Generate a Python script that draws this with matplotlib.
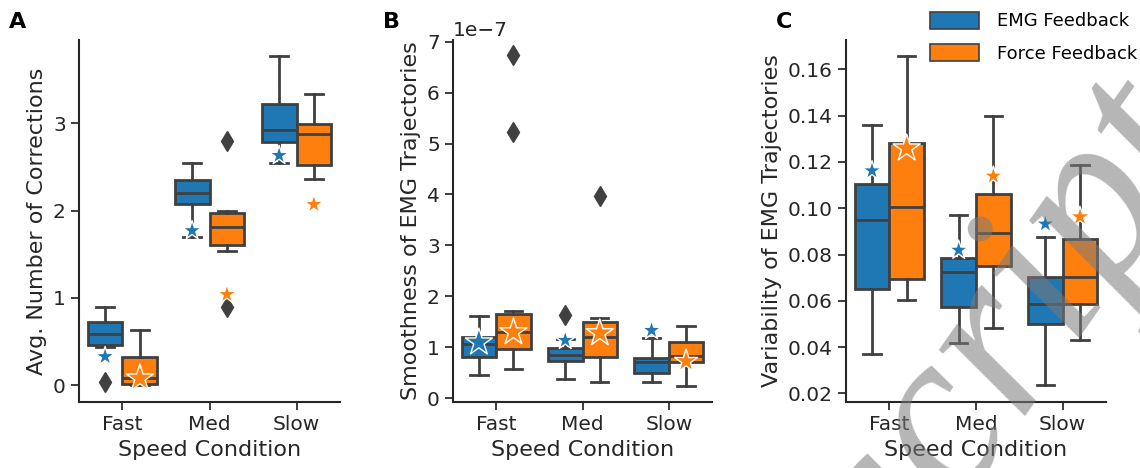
import numpy as np
import matplotlib
matplotlib.use("Agg")
import matplotlib.pyplot as plt
from matplotlib.patches import Patch

# ---- data -------------------------------------------------------------
conditions = ["Fast", "Med", "Slow"]
groups = ["EMG Feedback", "Force Feedback"]
colors = ["#1f77b4", "#ff7f0e"]

# box statistics per panel: [group][condition] = (whislo, q1, med, q3, whishi)
corr_stats = [
    [(0.44, 0.46, 0.59, 0.72, 0.90), (1.70, 2.08, 2.20, 2.35, 2.54), (2.54, 2.78, 2.92, 3.215, 3.77)],
    [(0.00, 0.02, 0.09, 0.32, 0.63), (1.54, 1.61, 1.81, 1.975, 2.00), (2.36, 2.52, 2.87, 2.99, 3.33)],
]
corr_fliers = [
    [[0.04], [], []],
    [[], [2.80, 0.90], []],
]
corr_star = [[0.33, 1.77, 2.63], [0.08, 1.04, 2.07]]

smooth_stats = [
    [(0.46e-7, 0.82e-7, 1.07e-7, 1.20e-7, 1.61e-7), (0.39e-7, 0.74e-7, 0.86e-7, 0.99e-7, 1.17e-7),
     (0.32e-7, 0.50e-7, 0.72e-7, 0.79e-7, 1.19e-7)],
    [(0.58e-7, 0.97e-7, 1.30e-7, 1.66e-7, 1.72e-7), (0.33e-7, 0.82e-7, 1.20e-7, 1.50e-7, 1.585e-7),
     (0.24e-7, 0.72e-7, 0.84e-7, 1.105e-7, 1.415e-7)],
]
smooth_fliers = [
    [[], [1.63e-7], []],
    [[6.74e-7, 5.23e-7], [3.98e-7], []],
]
smooth_star = [[1.10e-7, 1.14e-7, 1.335e-7], [1.30e-7, 1.28e-7, 0.73e-7]]

var_stats = [
    [(0.0369, 0.065, 0.0949, 0.1103, 0.136), (0.042, 0.0574, 0.0725, 0.0783, 0.097),
     (0.0236, 0.050, 0.0586, 0.0704, 0.0874)],
    [(0.0603, 0.0693, 0.1006, 0.1283, 0.1658), (0.0481, 0.0752, 0.0891, 0.1061, 0.140),
     (0.0433, 0.0585, 0.0704, 0.0868, 0.1187)],
]
var_fliers = [[[], [], []], [[], [], []]]
var_star = [[0.1162, 0.0819, 0.0932], [0.1259, 0.1139, 0.0963]]

# star marker sizes (scatter "s")
corr_star_size = [[210, 210, 210], [420, 210, 210]]
smooth_star_size = [[420, 210, 210], [420, 420, 300]]
var_star_size = [[210, 210, 210], [420, 210, 230]]

panels = [
    ("A", "Avg. Number of Corrections", corr_stats, corr_fliers, corr_star, corr_star_size,
     (-0.19, 3.95), [0, 1, 2, 3]),
    ("B", "Smoothness of EMG Trajectories", smooth_stats, smooth_fliers, smooth_star, smooth_star_size,
     (-0.07e-7, 7.03e-7), [0, 1e-7, 2e-7, 3e-7, 4e-7, 5e-7, 6e-7, 7e-7]),
    ("C", "Variability of EMG Trajectories", var_stats, var_fliers, var_star, var_star_size,
     (0.0163, 0.1727), [0.02, 0.04, 0.06, 0.08, 0.10, 0.12, 0.14, 0.16]),
]

# ---- figure -----------------------------------------------------------
W, H = 1140, 468
fig = plt.figure(figsize=(W / 100, H / 100), dpi=100)
line_c = "#404040"
lw = 2.0

axes_px = [(79, 340), (453, 712), (846, 1106)]
top_px, bot_px = 40, 402

for (letter, ylabel, stats, fliers, stars, star_sizes, ylim, yticks), (x0, x1) in zip(panels, axes_px):
    ax = fig.add_axes([x0 / W, (H - bot_px) / H, (x1 - x0) / W, (bot_px - top_px) / H])
    for g in range(2):
        offset = -0.2 if g == 0 else 0.2
        bstats = []
        for c in range(3):
            lo, q1, med, q3, hi = stats[g][c]
            bstats.append(dict(whislo=lo, q1=q1, med=med, q3=q3, whishi=hi, fliers=fliers[g][c]))
        positions = [c + offset for c in range(3)]
        ax.bxp(bstats, positions=positions, widths=0.4, capwidths=0.2, patch_artist=True,
               showfliers=True, manage_ticks=False,
               boxprops=dict(facecolor=colors[g], edgecolor=line_c, linewidth=lw),
               medianprops=dict(color=line_c, linewidth=lw),
               whiskerprops=dict(color=line_c, linewidth=lw),
               capprops=dict(color=line_c, linewidth=lw),
               flierprops=dict(marker="d", markerfacecolor=line_c, markeredgecolor=line_c,
                               markersize=10))
        ax.scatter(positions, stars[g], marker="*", s=star_sizes[g], c=colors[g],
                   edgecolors="white", linewidths=1.0, zorder=5)
    ax.set_xlim(-0.5, 2.5)
    ax.set_ylim(*ylim)
    ax.set_yticks(yticks)
    ax.set_xticks(range(3))
    ax.set_xticklabels(conditions)
    ax.set_xlabel("Speed Condition", fontsize=16, color="#262626")
    ax.set_ylabel(ylabel, fontsize=16, color="#262626")
    ax.tick_params(labelsize=14.5, colors="#262626", length=6, width=1.25)
    for s in ("top", "right"):
        ax.spines[s].set_visible(False)
    for s in ("left", "bottom"):
        ax.spines[s].set_linewidth(1.5)
        ax.spines[s].set_color("#262626")
    ax.yaxis.get_offset_text().set_fontsize(14.5)
    fig.text((x0 - 70) / W, 1 - 22 / H, letter, fontsize=16, fontweight="bold",
             ha="left", va="center")

handles = [Patch(facecolor=colors[i], edgecolor=line_c, linewidth=1.2, label=groups[i]) for i in range(2)]
fig.legend(handles=handles, loc="upper right", bbox_to_anchor=(1.012, 1.01), frameon=False,
           fontsize=13, handlelength=2.7, handleheight=1.1, labelspacing=0.75,
           handletextpad=1.0)

# diagonal page stamp across the right-hand panel
ang = 55.0
d = np.array([np.cos(np.radians(ang)), -np.sin(np.radians(ang))])
em = 235.0
p_c = np.array([961.0, 511.0])
start = p_c - 2.72 * em * d
fig.text(start[0] / W, 1 - start[1] / H, "Manuscript", fontsize=em * 72 / 100,
         family="Liberation Serif", style="italic", rotation=ang, rotation_mode="anchor",
         color="#7a7a7a", alpha=0.55, ha="left", va="baseline", zorder=10)

fig.savefig("out.png", dpi=100)
